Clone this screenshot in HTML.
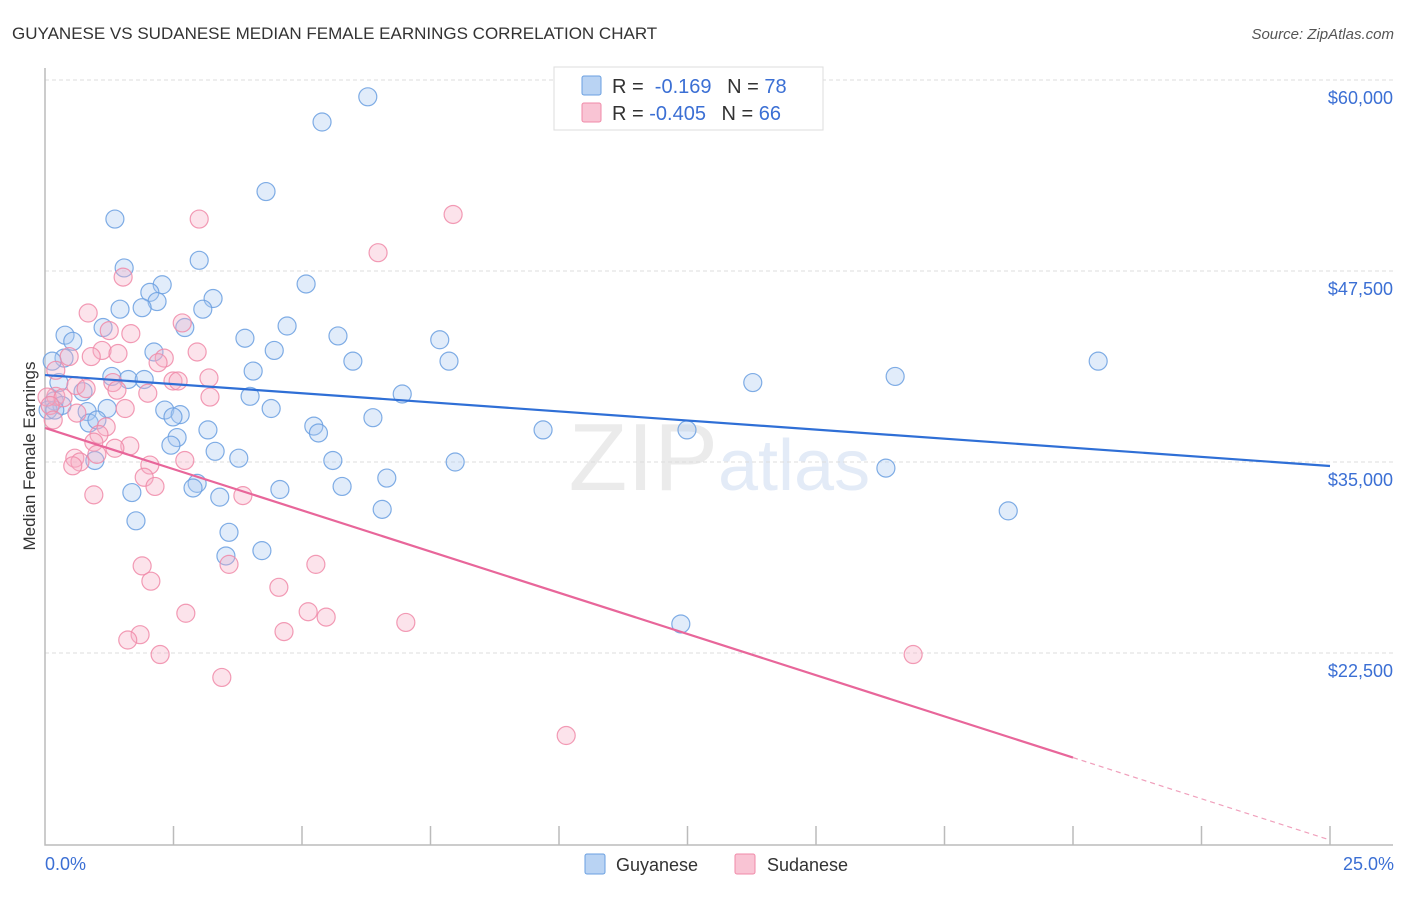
<!DOCTYPE html>
<html><head><meta charset="utf-8"><style>
body{margin:0;background:#fff;font-family:"Liberation Sans",sans-serif}
svg text{font-family:"Liberation Sans",sans-serif}
</style></head><body>
<svg id="c" width="1406" height="892" xmlns="http://www.w3.org/2000/svg">
<text x="12" y="39" font-size="17" fill="#333">GUYANESE VS SUDANESE MEDIAN FEMALE EARNINGS CORRELATION CHART</text>
<text x="1394" y="39" font-size="15" fill="#555" font-style="italic" text-anchor="end">Source: ZipAtlas.com</text>
<text x="718" y="490" font-size="96" fill="#ebebeb" text-anchor="end" font-family="Liberation Serif">ZIP</text>
<text x="718" y="490" font-size="72" fill="#e3ebf7">atlas</text>
<g id="grid"></g><g id="axes"></g><g id="pts"></g><g id="trend"></g>
<text x="35" y="456" font-size="17" fill="#333" text-anchor="middle" transform="rotate(-90 35 456)">Median Female Earnings</text>
<text x="45" y="870" font-size="18" fill="#3b6fd4">0.0%</text>
<text x="1394" y="870" font-size="18" fill="#3b6fd4" text-anchor="end">25.0%</text>
<g>
<rect x="554" y="67" width="269" height="63" fill="#fff" stroke="#ddd"/>
<rect x="582" y="76" width="19" height="19" fill="#b9d3f3" stroke="#6a9fe0" rx="2"/>
<rect x="582" y="103" width="19" height="19" fill="#f9c4d4" stroke="#f08aa8" rx="2"/>
<text x="612" y="93" font-size="20" fill="#333">R = <tspan fill="#3b6fd4">&#160;-0.169</tspan>   <tspan dx="10">N = </tspan><tspan fill="#3b6fd4">78</tspan></text>
<text x="612" y="120" font-size="20" fill="#333">R = <tspan fill="#3b6fd4">-0.405</tspan>   <tspan dx="10">N = </tspan><tspan fill="#3b6fd4">66</tspan></text>
</g>
<g>
<rect x="585" y="854" width="20" height="20" fill="#b9d3f3" stroke="#6a9fe0" rx="2"/>
<text x="616" y="871" font-size="18" fill="#333">Guyanese</text>
<rect x="735" y="854" width="20" height="20" fill="#f9c4d4" stroke="#f08aa8" rx="2"/>
<text x="767" y="871" font-size="18" fill="#333">Sudanese</text>
</g>
</svg>
<script>
const yTicks=[22500,35000,47500,60000];
const yTickLabels=["$22,500","$35,000","$47,500","$60,000"];
const guyX=[6.28,5.39,4.30,1.36,3.00,1.54,2.28,5.08,2.04,3.27,2.18,1.89,1.46,3.07,4.71,1.13,2.72,0.39,5.70,3.89,7.68,0.54,4.46,2.12,0.37,0.14,5.99,7.86,20.49,4.05,1.30,16.54,1.62,1.93,0.27,13.77,0.74,3.99,6.95,0.18,0.33,0.06,0.19,0.82,1.21,2.33,4.40,2.63,2.49,6.38,0.86,1.01,5.23,3.17,9.69,12.49,5.32,2.57,2.45,3.31,3.77,5.60,0.97,7.98,16.36,6.65,2.96,2.88,5.78,4.57,1.69,3.40,6.56,18.74,1.77,3.58,4.22,3.52,12.37];
const guyY=[58.9,57.25,52.7,50.9,48.2,47.7,46.6,46.65,46.1,45.7,45.5,45.1,45.0,45.0,43.9,43.8,43.8,43.3,43.25,43.1,43.0,42.9,42.3,42.2,41.8,41.6,41.6,41.6,41.6,40.95,40.6,40.6,40.4,40.4,40.2,40.2,39.6,39.3,39.45,39.0,38.7,38.4,38.4,38.3,38.5,38.4,38.5,38.1,37.95,37.9,37.55,37.75,37.35,37.1,37.1,37.1,36.9,36.6,36.1,35.7,35.25,35.1,35.1,35.0,34.6,33.95,33.6,33.3,33.4,33.2,33.0,32.7,31.9,31.8,31.15,30.4,29.2,28.85,24.4];
const sudX=[7.94,3.00,6.48,1.52,0.84,2.67,1.25,1.67,1.11,1.42,2.96,0.47,0.90,2.32,2.20,0.21,2.49,2.59,3.19,1.32,0.60,0.80,1.40,2.0,3.21,0.21,0.04,0.35,0.10,1.56,0.62,0.16,1.19,1.05,0.95,1.65,1.36,1.01,0.58,2.72,0.68,0.54,2.04,1.93,2.14,0.95,3.85,1.89,5.27,3.58,2.06,4.55,5.12,2.74,5.47,7.02,4.65,1.85,1.61,2.24,16.89,3.44,10.14];
const sudY=[51.2,50.9,48.7,47.1,44.75,44.1,43.6,43.4,42.3,42.1,42.2,41.9,41.9,41.8,41.5,41.0,40.3,40.3,40.5,40.2,40.0,39.8,39.7,39.5,39.25,39.3,39.25,39.2,38.7,38.5,38.2,37.75,37.3,36.8,36.3,36.05,35.9,35.5,35.25,35.1,35.0,34.75,34.8,34.0,33.4,32.85,32.8,28.2,28.3,28.3,27.2,26.8,25.2,25.1,24.85,24.5,23.9,23.7,23.35,22.4,22.4,20.9,17.1];
const guyTrend=[40.69,34.74];
const sudTrend=[37.23,10.26];
const NS="http://www.w3.org/2000/svg";
const X=p=>45+p*51.4;
const Y=v=>80+(60-v)*15.28;
function mk(t,a,par){const e=document.createElementNS(NS,t);for(const k in a)e.setAttribute(k,a[k]);document.getElementById(par).appendChild(e);return e;}
yTicks.forEach((t,i)=>{
 const l=mk('line',{x1:45,x2:1393,y1:Y(t/1000),y2:Y(t/1000),stroke:'#ddd','stroke-dasharray':'4 3'},'grid');
 
 
 const tx=mk('text',{x:1393,y:Y(t/1000)+24,'font-size':18,fill:'#3b6fd4','text-anchor':'end'},'grid');
 tx.textContent=yTickLabels[i];
 
 
});
const ax=mk('path',{d:'M45 68V845H1393',fill:'none',stroke:'#bbb','stroke-width':1.5},'axes');


for(let i=1;i<=10;i++){const t=mk('line',{x1:X(i*2.5),x2:X(i*2.5),y1:826,y2:845,stroke:'#bbb','stroke-width':1.5},'axes');
 
 }
function pts(xs,ys,fill,stroke,name){xs.forEach((x,i)=>{const c=mk('circle',{cx:X(x),cy:Y(ys[i]),r:9,fill:fill,'fill-opacity':0.35,stroke:stroke,'stroke-width':1.2,'stroke-opacity':0.85},'pts');
 
 });}
pts(guyX,guyY,'#a9c8f0','#6a9fe0','guyanese-point');
pts(sudX,sudY,'#f7b0c6','#f08aa8','sudanese-point');
const bl=mk('line',{x1:X(0),y1:Y(guyTrend[0]),x2:X(25),y2:Y(guyTrend[1]),stroke:'#2f6fd6','stroke-width':2.2},'trend');


const s20=sudTrend[0]+(sudTrend[1]-sudTrend[0])*0.8;
const pl=mk('line',{x1:X(0),y1:Y(sudTrend[0]),x2:X(20),y2:Y(s20),stroke:'#e8669a','stroke-width':2.2},'trend');


const pd=mk('line',{x1:X(20),y1:Y(s20),x2:X(25),y2:Y(sudTrend[1]),stroke:'#f0a0bc','stroke-width':1.2,'stroke-dasharray':'5 4'},'trend');


</script>
</body></html>
